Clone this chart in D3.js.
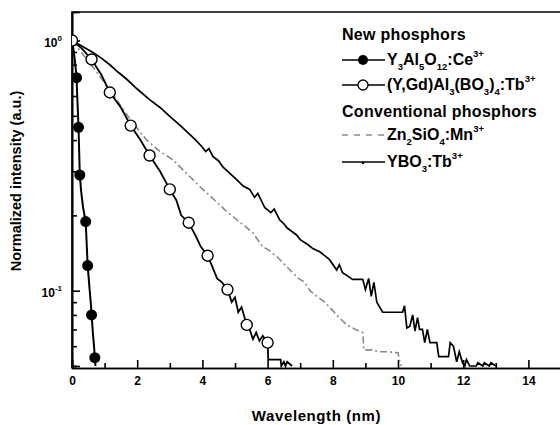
<!DOCTYPE html>
<meta charset="utf-8">
<style>
body, html {
  margin: 0;
  padding: 0;
  background: #fff;
}
text {
  font-family: "Liberation Sans", Arial, sans-serif;
  font-weight: bold;
  fill: #000;
}
.axis path, .axis line {
  stroke: #000;
  stroke-width: 1.6px;
}
</style>
<div id="chart"></div>
<script src="https://d3js.org/d3.v7.min.js"></script>
<script>
// Y3Al5O12:Ce3+ decay
const yagX = [0, 0.04, 0.08, 0.11, 0.14, 0.16, 0.18, 0.2, 0.22, 0.24, 0.28, 0.34, 0.4, 0.42, 0.45, 0.48, 0.53, 0.58, 0.6, 0.64, 0.68, 0.7, 0.72];
const yagY = [1.0, 0.93, 0.85, 0.78, 0.71, 0.6, 0.52, 0.45, 0.36, 0.29, 0.25, 0.215, 0.195, 0.189, 0.155, 0.126, 0.105, 0.088, 0.08, 0.068, 0.059, 0.054, 0.05];
const yagMarkX = [0.14, 0.2, 0.24, 0.42, 0.48, 0.6, 0.7];
const yagMarkY = [0.71, 0.45, 0.29, 0.189, 0.126, 0.08, 0.054];

// (Y,Gd)Al3(BO3)4:Tb3+ decay
const ygabX = [0, 0.3, 0.6, 0.9, 1.16, 1.5, 1.8, 2.1, 2.38, 2.7, 3.0, 3.2, 3.35, 3.58, 3.8, 3.95, 4.16, 4.3, 4.45, 4.6, 4.77, 4.9, 5.0, 5.1, 5.2, 5.36, 5.45, 5.55, 5.65, 5.75, 5.85, 6.0, 6.02, 6.4, 6.42, 6.5, 6.55, 6.6, 6.75];
const ygabY = [1.0, 0.93, 0.84, 0.73, 0.62, 0.54, 0.457, 0.4, 0.347, 0.3, 0.254, 0.23, 0.2, 0.187, 0.165, 0.15, 0.138, 0.125, 0.112, 0.108, 0.101, 0.09, 0.094, 0.082, 0.086, 0.073, 0.07, 0.064, 0.068, 0.063, 0.066, 0.062, 0.053, 0.053, 0.05, 0.052, 0.05, 0.052, 0.05];
const ygabMarkX = [0, 0.6, 1.16, 1.8, 2.38, 3.0, 3.58, 4.16, 4.77, 5.36, 6.0];
const ygabMarkY = [1.0, 0.84, 0.62, 0.457, 0.347, 0.254, 0.187, 0.138, 0.101, 0.073, 0.062];

// Zn2SiO4:Mn3+ decay
const znX = [0, 0.7, 1.37, 1.8, 2.29, 2.7, 3.09, 3.61, 4.01, 4.3, 4.68, 5.1, 5.54, 5.85, 6.05, 6.28, 6.5, 6.74, 6.95, 7.14, 7.3, 7.51, 7.75, 7.97, 8.2, 8.43, 8.7, 8.92, 8.95, 9.2, 9.43, 9.7, 10.0, 10.04, 10.1];
const znY = [1.0, 0.766, 0.58, 0.48, 0.40, 0.36, 0.334, 0.286, 0.254, 0.235, 0.211, 0.19, 0.171, 0.15, 0.145, 0.137, 0.128, 0.119, 0.112, 0.108, 0.1, 0.095, 0.09, 0.084, 0.078, 0.073, 0.07, 0.068, 0.058, 0.058, 0.057, 0.057, 0.0565, 0.053, 0.05];

// YBO3:Tb3+ decay
const yboX = [0, 0.3, 0.64, 0.9, 1.16, 1.4, 1.68, 2.0, 2.38, 2.7, 3.0, 3.3, 3.52, 3.75, 3.98, 4.1, 4.2, 4.32, 4.5, 4.62, 4.8, 5.05, 5.25, 5.45, 5.6, 5.7, 5.91, 6.1, 6.2, 6.37, 6.5, 6.6, 6.89, 7.0, 7.23, 7.4, 7.6, 7.75, 7.9, 8.12, 8.2, 8.3, 8.52, 8.6, 8.92, 9.0, 9.1, 9.18, 9.26, 9.35, 9.53, 9.6, 9.9, 10.14, 10.2, 10.27, 10.36, 10.45, 10.52, 10.6, 10.66, 10.75, 10.82, 10.9, 10.98, 11.19, 11.25, 11.37, 11.55, 11.6, 11.7, 11.8, 11.88, 11.98, 12.05, 12.1, 12.2, 12.4, 12.45, 12.6, 12.65, 12.8, 12.85, 13.0];
const yboY = [1.0, 0.95, 0.895, 0.85, 0.80, 0.75, 0.70, 0.64, 0.58, 0.54, 0.497, 0.46, 0.432, 0.405, 0.377, 0.36, 0.37, 0.344, 0.33, 0.313, 0.298, 0.278, 0.262, 0.254, 0.236, 0.245, 0.215, 0.205, 0.212, 0.192, 0.185, 0.178, 0.167, 0.16, 0.153, 0.147, 0.143, 0.138, 0.133, 0.121, 0.127, 0.118, 0.113, 0.111, 0.111, 0.101, 0.112, 0.095, 0.108, 0.09, 0.082, 0.082, 0.082, 0.082, 0.087, 0.071, 0.072, 0.08, 0.069, 0.078, 0.07, 0.07, 0.062, 0.07, 0.062, 0.062, 0.0545, 0.0545, 0.0545, 0.062, 0.06, 0.052, 0.057, 0.0515, 0.05, 0.053, 0.05, 0.05, 0.0515, 0.05, 0.0515, 0.05, 0.0515, 0.05];

const xMajor = [0, 2, 4, 6, 8, 10, 12, 14];
const xMinor = [1, 3, 5, 7, 9, 11, 13, 15];
const yMajor = [0.1, 1];
const yMinor = [0.05, 0.06, 0.07, 0.08, 0.09, 0.2, 0.3, 0.4, 0.5, 0.6, 0.7, 0.8, 0.9];

const width = 560, height = 425;
const mLeft = 72, mRight = 561, mTop = 12, mBottom = 366;

const svg = d3.select("#chart").append("svg")
    .attr("width", width)
    .attr("height", height);

const x = d3.scaleLinear().domain([0, 15]).range([mLeft, mRight]);
const y = d3.scaleLog().domain([0.05, 1.3]).range([mBottom, mTop]);

svg.append("defs").append("clipPath").attr("id", "clip")
  .append("rect")
    .attr("x", mLeft).attr("y", mTop)
    .attr("width", mRight - mLeft).attr("height", mBottom - mTop + 2);

// axes with inward ticks
svg.append("g").attr("class", "axis")
    .attr("transform", "translate(0," + (mBottom + 2) + ")")
    .call(d3.axisBottom(x).tickValues(xMinor).tickSize(-5).tickFormat(""));
const xAxis = svg.append("g").attr("class", "axis")
    .attr("transform", "translate(0," + (mBottom + 2) + ")")
    .call(d3.axisBottom(x).tickValues(xMajor).tickSize(-8).tickPadding(8).tickFormat(d3.format("d")));
xAxis.selectAll("text").attr("font-size", 12).style("font-family", '"Liberation Sans", Arial, sans-serif').style("font-weight", "bold");

svg.append("g").attr("class", "axis")
    .attr("transform", "translate(" + mLeft + ",0)")
    .call(d3.axisLeft(y).tickValues(yMinor).tickSize(-5).tickFormat(""));
svg.append("g").attr("class", "axis")
    .attr("transform", "translate(" + mLeft + ",0)")
    .call(d3.axisLeft(y).tickValues(yMajor).tickSize(-8).tickFormat(""));

yMajor.forEach(function(v) {
  const t = svg.append("text")
      .attr("x", 62).attr("y", y(v) + 6)
      .attr("text-anchor", "end")
      .attr("font-size", 12);
  t.append("tspan").text("10");
  t.append("tspan").attr("dy", -6).attr("font-size", 8).text(v === 1 ? "0" : "-1");
});

// frame
svg.append("path")
    .attr("d", "M" + mLeft + "," + (mBottom + 2) + "V" + mTop + "H" + mRight)
    .attr("fill", "none").attr("stroke", "#000").attr("stroke-width", 1.6);

const plot = svg.append("g").attr("clip-path", "url(#clip)");
const line = d3.line().x(d => x(d[0])).y(d => y(d[1]));
const pairs = (xs, ys) => xs.map((v, i) => [v, ys[i]]);

plot.append("path").datum(pairs(znX, znY))
    .attr("d", line).attr("fill", "none")
    .attr("stroke", "#8a8a8a").attr("stroke-width", 1.6)
    .attr("stroke-dasharray", "7,3,2,3");
plot.append("path").datum(pairs(yboX, yboY))
    .attr("d", line).attr("fill", "none")
    .attr("stroke", "#000").attr("stroke-width", 1.7);
plot.append("path").datum(pairs(ygabX, ygabY))
    .attr("d", line).attr("fill", "none")
    .attr("stroke", "#000").attr("stroke-width", 1.8);
plot.append("path").datum(pairs(yagX, yagY))
    .attr("d", line).attr("fill", "none")
    .attr("stroke", "#000").attr("stroke-width", 2);

plot.selectAll("circle.open").data(pairs(ygabMarkX, ygabMarkY)).enter()
  .append("circle").attr("class", "open")
    .attr("cx", d => x(d[0])).attr("cy", d => y(d[1])).attr("r", 5.5)
    .attr("fill", "#fff").attr("stroke", "#000").attr("stroke-width", 1.4);
plot.selectAll("circle.filled").data(pairs(yagMarkX, yagMarkY)).enter()
  .append("circle").attr("class", "filled")
    .attr("cx", d => x(d[0])).attr("cy", d => y(d[1])).attr("r", 5.5)
    .attr("fill", "#000");

// axis titles
svg.append("text")
    .attr("x", (mLeft + mRight) / 2).attr("y", 421)
    .attr("text-anchor", "middle").attr("font-size", 15)
    .attr("letter-spacing", 0.6)
    .text("Wavelength (nm)");
svg.append("text")
    .attr("transform", "translate(21,181) rotate(-90)")
    .attr("text-anchor", "middle").attr("font-size", 14.5)
    .text("Normalized intensity (a.u.)");

// legend
const lx = 342, tx = 387;
function rich(yPos, parts) {
  const t = svg.append("text").attr("x", tx).attr("y", yPos).attr("font-size", 16);
  let shift = 0;
  parts.forEach(function(p) {
    const off = p[1] === "sub" ? 5 : p[1] === "sup" ? -8 : 0;
    t.append("tspan").attr("dy", off - shift)
        .attr("font-size", p[1] ? 9.5 : 16).text(p[0]);
    shift = off;
  });
}
svg.append("text").attr("x", lx).attr("y", 40).attr("font-size", 16)
    .attr("letter-spacing", 0.3).text("New phosphors");
svg.append("text").attr("x", lx).attr("y", 117).attr("font-size", 16)
    .attr("letter-spacing", 0.3).text("Conventional phosphors");

const rows = [60, 85, 135, 162];
svg.append("line").attr("x1", lx).attr("x2", 385).attr("y1", rows[0]).attr("y2", rows[0])
    .attr("stroke", "#000").attr("stroke-width", 1.6);
svg.append("circle").attr("cx", 363).attr("cy", rows[0]).attr("r", 5).attr("fill", "#000");
svg.append("line").attr("x1", lx).attr("x2", 385).attr("y1", rows[1]).attr("y2", rows[1])
    .attr("stroke", "#000").attr("stroke-width", 1.4);
svg.append("circle").attr("cx", 363).attr("cy", rows[1]).attr("r", 5)
    .attr("fill", "#fff").attr("stroke", "#000").attr("stroke-width", 1.3);
svg.append("line").attr("x1", lx).attr("x2", 385).attr("y1", rows[2]).attr("y2", rows[2])
    .attr("stroke", "#8a8a8a").attr("stroke-width", 1.4).attr("stroke-dasharray", "6,6");
svg.append("line").attr("x1", lx).attr("x2", 385).attr("y1", rows[3]).attr("y2", rows[3])
    .attr("stroke", "#000").attr("stroke-width", 1.4);
svg.append("circle").attr("cx", 363).attr("cy", rows[3] + 1).attr("r", 1.2).attr("fill", "#000");

rich(rows[0] + 5, [["Y"], ["3", "sub"], ["Al"], ["5", "sub"], ["O"], ["12", "sub"], [":Ce"], ["3+", "sup"]]);
rich(rows[1] + 5, [["(Y,Gd)Al"], ["3", "sub"], ["(BO"], ["3", "sub"], [")"], ["4", "sub"], [":Tb"], ["3+", "sup"]]);
rich(rows[2] + 5, [["Zn"], ["2", "sub"], ["SiO"], ["4", "sub"], [":Mn"], ["3+", "sup"]]);
rich(rows[3] + 5, [["YBO"], ["3", "sub"], [":Tb"], ["3+", "sup"]]);
</script>
